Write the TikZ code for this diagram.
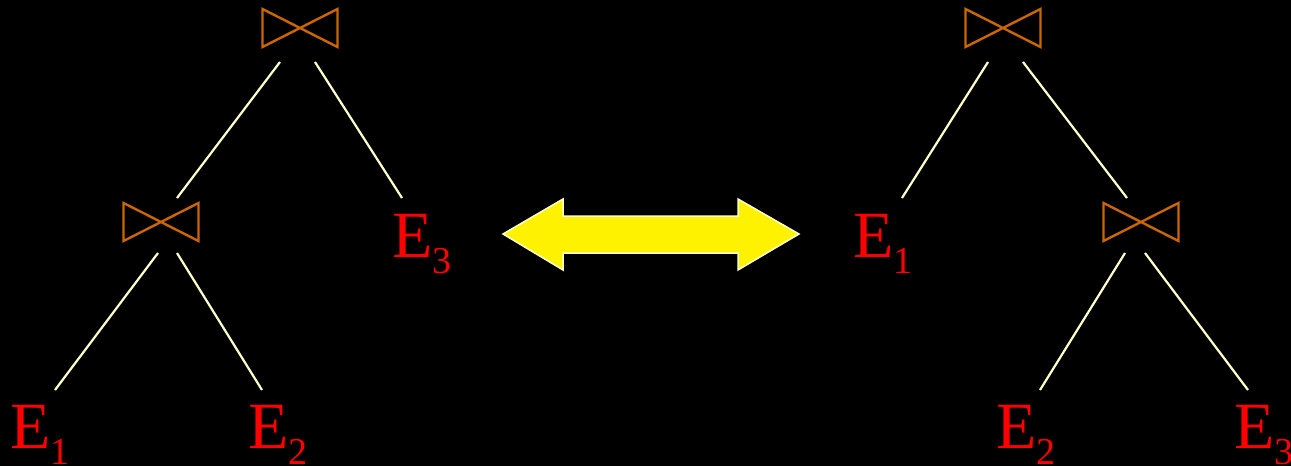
\documentclass[tikz,border=0pt]{standalone}
\usepackage{fontspec}
\setmainfont{Liberation Serif}
\usetikzlibrary{calc}
\definecolor{joinc}{RGB}{204,102,0}
\definecolor{edgec}{RGB}{255,255,204}
\definecolor{leafc}{RGB}{255,0,0}
\newcommand{\sbs}[1]{\raisebox{-16pt}{\fontsize{38}{38}\selectfont #1}}
\tikzset{
  joinnode/.style={minimum width=75pt,minimum height=38pt,inner sep=0pt,outer sep=0pt},
  joinline/.style={draw=joinc,line width=2.4pt,line join=miter},
  edge/.style={draw=edgec,line width=2.2pt},
  leaf/.style={text=leafc,inner sep=0pt,outer sep=0pt,anchor=base west,font=\fontsize{66}{66}\selectfont},
  bigarrow/.style={fill=yellow,draw=edgec,line width=1.5pt,line join=miter}
}
\newcommand{\drawjoinsym}[1]{\draw[joinline] (#1.north west)--(#1.south east)--(#1.north east)--(#1.south west)--cycle;}
\begin{document}
\begin{tikzpicture}[x=1pt,y=-1pt]
\fill[black] (0,0) rectangle (1291,466);
\useasboundingbox (0,0) rectangle (1291,466);
% left tree
\node[joinnode] (j1) at (300,28) {};
\node[joinnode] (j2) at (161,222) {};
\drawjoinsym{j1}
\drawjoinsym{j2}
\node[leaf] (e3) at (392,257) {E\sbs{3}};
\node[leaf] (e1) at (10,448) {E\sbs{1}};
\node[leaf] (e2) at (248,448) {E\sbs{2}};
\draw[edge] ($(j1.south)+(-20,15)$) -- ($(j2.north)+(16,-5)$);
\draw[edge] ($(j1.south)+(15,15)$) -- ($(e3.base west)+(10,-59)$);
\draw[edge] ($(j2.south)+(-3,12)$) -- ($(e1.base west)+(45,-58)$);
\draw[edge] ($(j2.south)+(16,12)$) -- ($(e2.base west)+(14,-58)$);
% right tree
\node[joinnode] (j3) at (1003,28) {};
\node[joinnode] (j4) at (1141,222) {};
\drawjoinsym{j3}
\drawjoinsym{j4}
\node[leaf] (f1) at (853,257) {E\sbs{1}};
\node[leaf] (f2) at (996,448) {E\sbs{2}};
\node[leaf] (f3) at (1234,448) {E\sbs{3}};
\draw[edge] ($(j3.south)+(-15,15)$) -- ($(f1.base west)+(49,-59)$);
\draw[edge] ($(j3.south)+(20,15)$) -- ($(j4.north)+(-14,-5)$);
\draw[edge] ($(j4.south)+(-16,12)$) -- ($(f2.base west)+(44,-58)$);
\draw[edge] ($(j4.south)+(4,12)$) -- ($(f3.base west)+(14,-58)$);
% double arrow
\draw[bigarrow] (503,234) -- (563,199) -- (563,216) -- (738,216) -- (738,199) -- (799,234) -- (738,270) -- (738,253) -- (563,253) -- (563,270) -- cycle;
\end{tikzpicture}
\end{document}
